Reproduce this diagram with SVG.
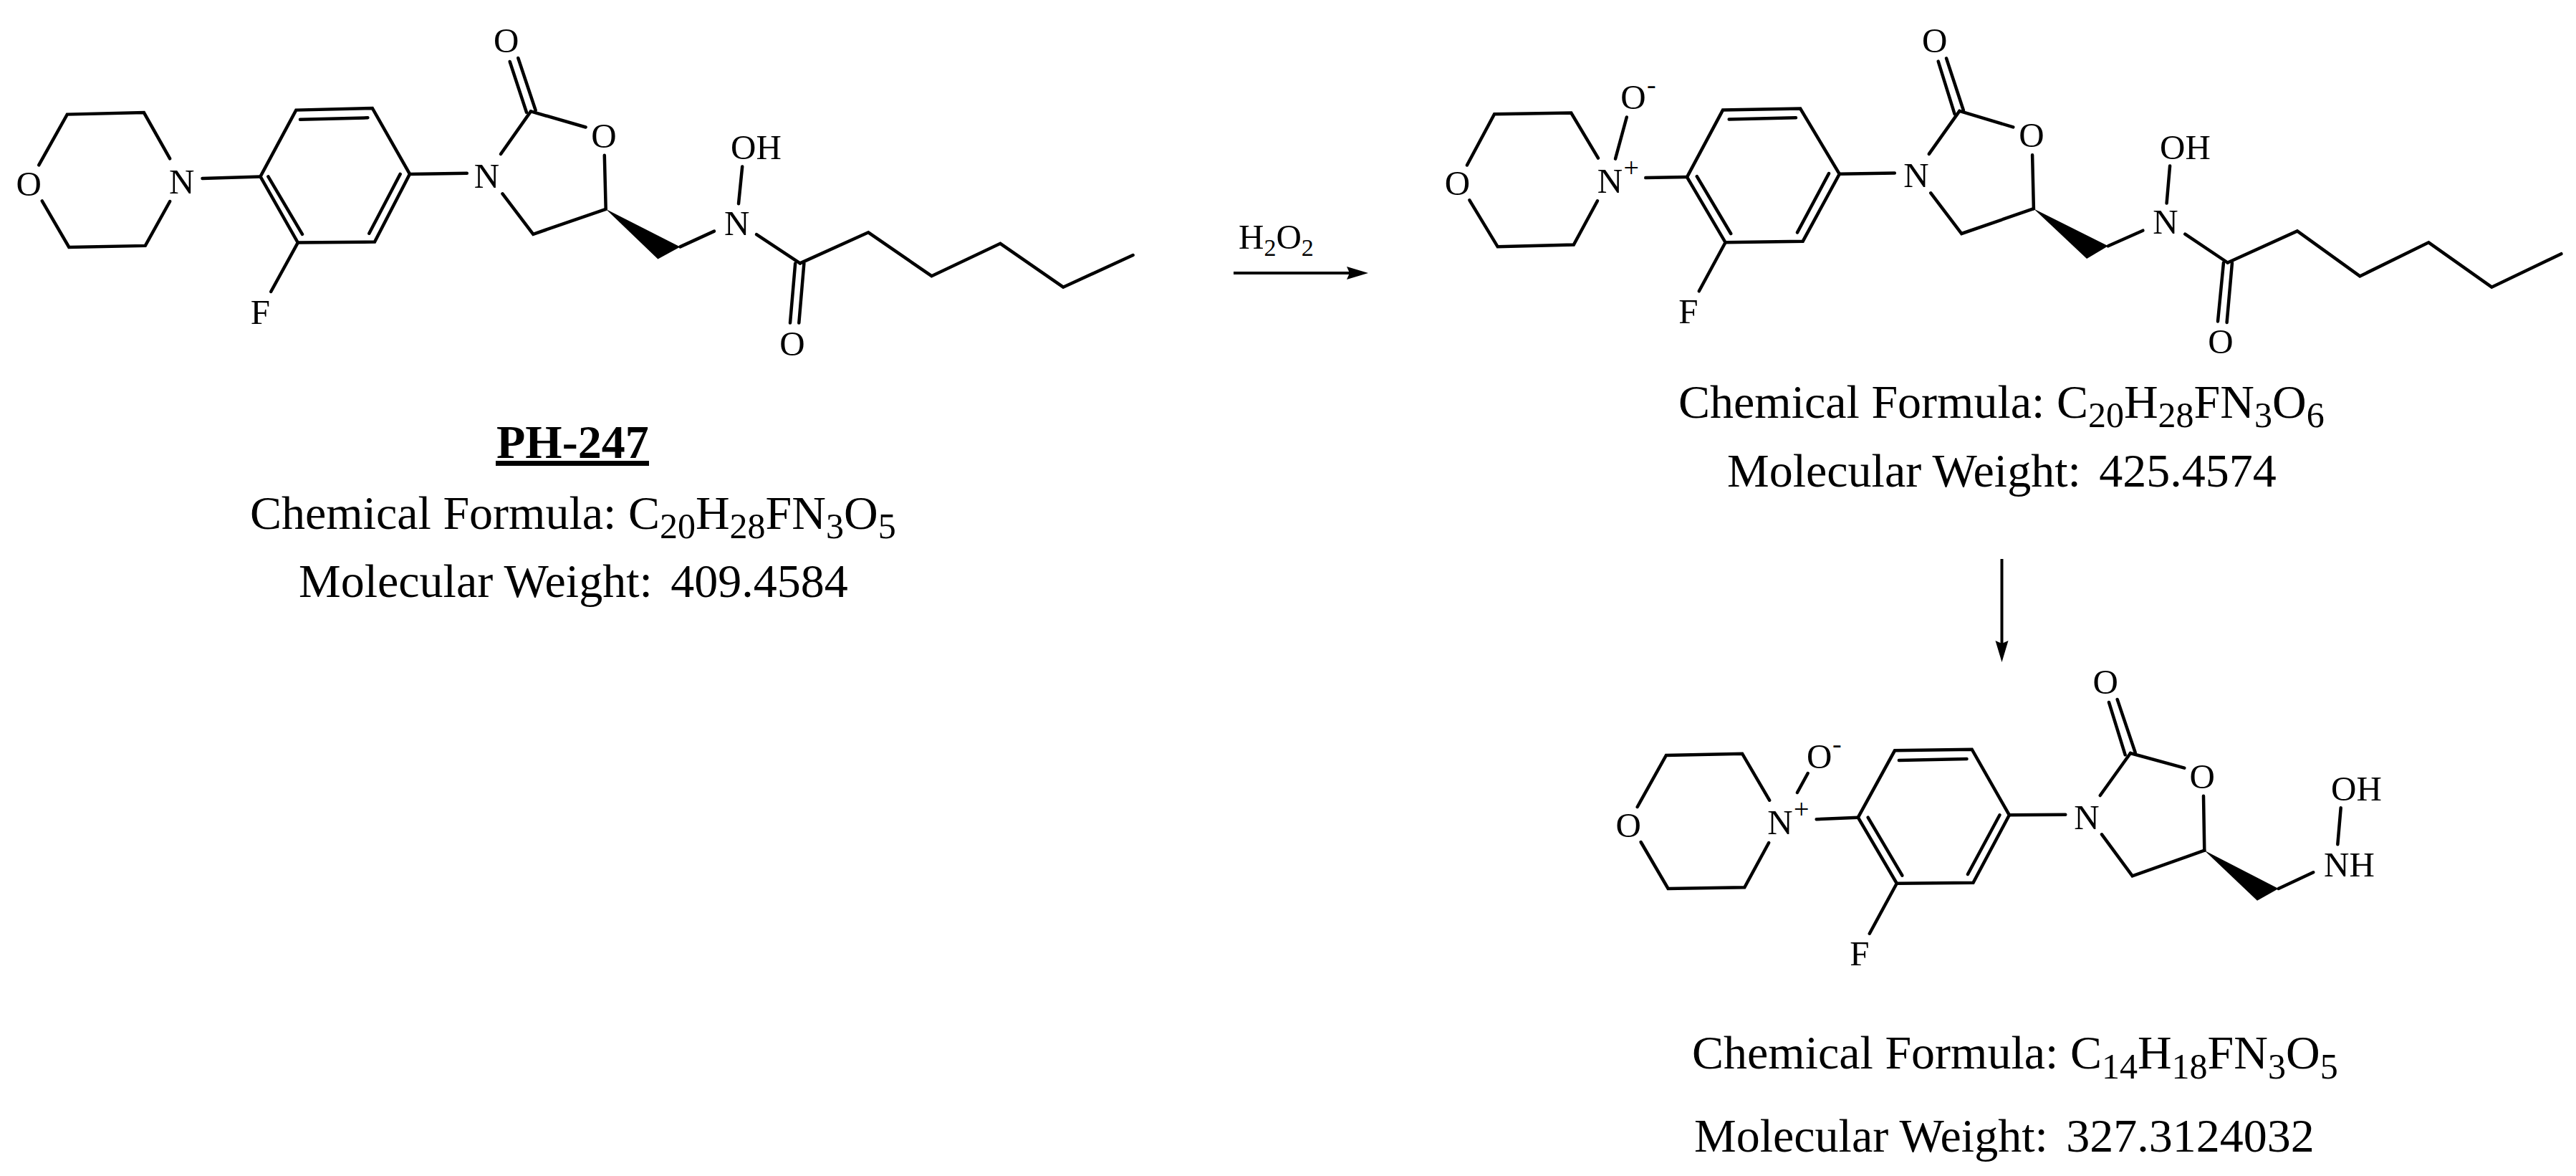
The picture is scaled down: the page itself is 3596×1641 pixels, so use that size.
<svg xmlns="http://www.w3.org/2000/svg" width="3596" height="1641" viewBox="0 0 3596 1641">
<style>
text{font-family:"Liberation Serif","Times New Roman",serif;fill:#000}
.a{font-size:49px;text-anchor:middle}
.l{font-size:49px}
.c{font-size:38px}
.f{font-size:66px}
.w{font-size:66px}
.s{font-size:50px}
.t{font-size:66px;font-weight:bold}
.b{fill:none;stroke:#000;stroke-width:4.5;stroke-linejoin:miter;stroke-linecap:round}
.k{fill:#000}
.r{fill:none;stroke:#000;stroke-width:4}
</style>
<defs>
<marker id="ah" markerUnits="userSpaceOnUse" markerWidth="32" markerHeight="22" refX="18" refY="11" orient="auto"><path d="M0,2 L30,11 L0,20 L4,11 Z" fill="#000"/></marker>
</defs>
<rect width="3596" height="1641" fill="#fff"/>
<g id="connectors">
<line class="r" x1="1722" y1="381" x2="1898" y2="381" marker-end="url(#ah)"/>
<line class="r" x1="2794.5" y1="780" x2="2794.5" y2="912" marker-end="url(#ah)"/>
</g>
<g id="reagent"><text class="l" x="1729" y="347">H<tspan font-size="34" dy="10">2</tspan><tspan dy="-10">O</tspan><tspan font-size="34" dy="10">2</tspan></text></g>
<g id="ph247">
<polyline class="b" points="237.2,221.4 200.9,157.1 93.8,159.6 54.2,230.4"/>
<polyline class="b" points="237.2,281 202.8,342.9 96.3,345 58.7,280.4"/>
<line class="b" x1="282.5" y1="249" x2="363.5" y2="246.4"/>
<polygon class="b" points="363.5,246.4 413.3,153.6 519.8,151 572,242.9 523,337.5 415.8,338.6"/>
<line class="b" x1="419" y1="166.8" x2="513.4" y2="164.3"/>
<line class="b" x1="374.4" y1="246.4" x2="422" y2="326.8"/>
<line class="b" x1="558.7" y1="242.9" x2="515.3" y2="325.7"/>
<line class="b" x1="415.8" y1="338.6" x2="378.2" y2="407"/>
<line class="b" x1="572" y1="242.9" x2="651.8" y2="241.8"/>
<line class="b" x1="699" y1="215" x2="741" y2="155.4"/>
<line class="b" x1="711.7" y1="86" x2="735" y2="156.7"/>
<line class="b" x1="723.3" y1="81" x2="747.7" y2="154"/>
<line class="b" x1="741" y1="155.4" x2="817.6" y2="177.5"/>
<line class="b" x1="843.8" y1="216.8" x2="845.7" y2="291.8"/>
<polyline class="b" points="845.7,291.8 744.3,326.8 701.5,270.4"/>
<polygon class="k" points="845.7,291.8 918.4,361.6 949.5,344.4"/>
<line class="b" x1="949.5" y1="344.4" x2="997" y2="322.6"/>
<line class="b" x1="1036.2" y1="232.5" x2="1031" y2="284.2"/>
<line class="b" x1="1056" y1="327.2" x2="1116.8" y2="367.4"/>
<line class="b" x1="1110.2" y1="367.4" x2="1103" y2="450.6"/>
<line class="b" x1="1122.4" y1="367.4" x2="1115.3" y2="450.6"/>
<polyline class="b" points="1116.8,367.4 1212.2,324.3 1300.5,385.2 1396.4,339.8 1484.2,400.7 1581.6,356"/>
<text class="a" x="40.2" y="273">O</text>
<text class="a" x="253.8" y="269.6">N</text>
<text class="a" x="363.5" y="451.8">F</text>
<text class="a" x="679.5" y="261.7">N</text>
<text class="a" x="706.6" y="73">O</text>
<text class="a" x="843" y="206">O</text>
<text class="a" x="1028.6" y="328.4">N</text>
<text class="l" x="1020" y="222">OH</text>
<text class="a" x="1106" y="496">O</text>
<text class="t" x="693" y="639">PH-247</text>
<rect x="692" y="643" width="214" height="7" fill="#000"/>
<text class="f" x="349" y="738">Chemical Formula: C<tspan class="s" dy="13">20</tspan><tspan dy="-13">H</tspan><tspan class="s" dy="13">28</tspan><tspan dy="-13">FN</tspan><tspan class="s" dy="13">3</tspan><tspan dy="-13">O</tspan><tspan class="s" dy="13">5</tspan></text>
<text class="w" x="417" y="833">Molecular Weight: <tspan dx="9">409.4584</tspan></text>
</g>
<g id="n-oxide">
<polyline class="b" points="2231,220.6 2193.3,157.5 2086.1,159.2 2047.9,230.5"/>
<polyline class="b" points="2230,280.3 2196.8,341.6 2090.7,344.3 2051.4,279.3"/>
<line class="b" x1="2255" y1="221.6" x2="2270.8" y2="163.5"/>
<line class="b" x1="2297.3" y1="248.1" x2="2355" y2="247.1"/>
<polygon class="b" points="2355,247.1 2405,153.6 2513.2,151.6 2567.8,242.8 2516.7,336.7 2408.6,338.3"/>
<line class="b" x1="2413.7" y1="166.5" x2="2507" y2="164.2"/>
<line class="b" x1="2368.8" y1="246.1" x2="2416.2" y2="326"/>
<line class="b" x1="2553" y1="242.1" x2="2509" y2="324.4"/>
<line class="b" x1="2408.6" y1="338.3" x2="2371.8" y2="406.3"/>
<line class="b" x1="2567.8" y1="242.8" x2="2644.8" y2="241.5"/>
<line class="b" x1="2692.8" y1="214.9" x2="2735.4" y2="154.9"/>
<line class="b" x1="2705.7" y1="85.6" x2="2728.6" y2="159.2"/>
<line class="b" x1="2717" y1="81.3" x2="2741" y2="154.2"/>
<line class="b" x1="2735.4" y1="154.9" x2="2810.3" y2="177.4"/>
<line class="b" x1="2837.1" y1="216.3" x2="2838.9" y2="291.2"/>
<polyline class="b" points="2838.9,291.2 2738.3,326 2695.3,269.3"/>
<polygon class="k" points="2838.9,291.2 2913.1,360.9 2942.9,343.3"/>
<line class="b" x1="2942.9" y1="343.3" x2="2991.4" y2="321.7"/>
<line class="b" x1="3029.1" y1="231.5" x2="3024.6" y2="283.6"/>
<line class="b" x1="3050.3" y1="326.7" x2="3109.7" y2="366.5"/>
<line class="b" x1="3104" y1="366.5" x2="3096" y2="448.4"/>
<line class="b" x1="3116" y1="366.5" x2="3108.6" y2="450"/>
<polyline class="b" points="3109.7,366.5 3206.9,322.4 3294.3,385.4 3390.3,338.3 3478.3,400.7 3575.4,354.2"/>
<text class="a" x="2034.4" y="272">O</text>
<text class="a" x="2247.5" y="269">N</text>
<text class="c" x="2266.5" y="247">+</text>
<text class="a" x="2280" y="152">O</text>
<text class="c" x="2299" y="131">-</text>
<text class="a" x="2357" y="451">F</text>
<text class="a" x="2675" y="261">N</text>
<text class="a" x="2700.7" y="73">O</text>
<text class="a" x="2836" y="205">O</text>
<text class="a" x="3023" y="325.7">N</text>
<text class="l" x="3015" y="221.6">OH</text>
<text class="a" x="3100" y="493">O</text>
<text class="f" x="2343" y="583">Chemical Formula: C<tspan class="s" dy="13">20</tspan><tspan dy="-13">H</tspan><tspan class="s" dy="13">28</tspan><tspan dy="-13">FN</tspan><tspan class="s" dy="13">3</tspan><tspan dy="-13">O</tspan><tspan class="s" dy="13">6</tspan></text>
<text class="w" x="2411" y="679">Molecular Weight: <tspan dx="9">425.4574</tspan></text>
</g>
<g id="degradant">
<polyline class="b" points="2470.1,1116.7 2432.1,1051.7 2325.9,1054 2285.7,1126"/>
<polyline class="b" points="2469.2,1176 2435.3,1238.3 2328.6,1240 2290.6,1175"/>
<line class="b" x1="2508.9" y1="1106" x2="2523.7" y2="1079"/>
<line class="b" x1="2535.7" y1="1143.3" x2="2593.8" y2="1140.7"/>
<polygon class="b" points="2593.8,1140.7 2645,1047.3 2752.7,1045.7 2804.9,1137.3 2754.5,1231.7 2647.8,1232.7"/>
<line class="b" x1="2650.9" y1="1061" x2="2745.5" y2="1059"/>
<line class="b" x1="2607.6" y1="1140.7" x2="2655.4" y2="1221.7"/>
<line class="b" x1="2791.5" y1="1137.3" x2="2746.9" y2="1220"/>
<line class="b" x1="2647.8" y1="1232.7" x2="2609.8" y2="1302.7"/>
<line class="b" x1="2804.9" y1="1137.3" x2="2883.3" y2="1136.7"/>
<line class="b" x1="2931.7" y1="1110" x2="2974" y2="1051"/>
<line class="b" x1="2944" y1="980" x2="2966.7" y2="1053.3"/>
<line class="b" x1="2955.7" y1="976" x2="2980.7" y2="1050"/>
<line class="b" x1="2974" y1="1051" x2="3049.3" y2="1071.7"/>
<line class="b" x1="3076" y1="1110.7" x2="3077.3" y2="1186.7"/>
<polyline class="b" points="3077.3,1186.7 2976.7,1222.3 2934,1164.3"/>
<polygon class="k" points="3077.3,1186.7 3151,1256.7 3180.7,1240"/>
<line class="b" x1="3180.7" y1="1240" x2="3229.3" y2="1217.3"/>
<line class="b" x1="3267.7" y1="1127.3" x2="3263.3" y2="1178.3"/>
<text class="a" x="2273.2" y="1167.5">O</text>
<text class="a" x="2485" y="1164.3">N</text>
<text class="c" x="2504" y="1142">+</text>
<text class="a" x="2539.7" y="1071.5">O</text>
<text class="c" x="2558" y="1051">-</text>
<text class="a" x="2596" y="1346.7">F</text>
<text class="a" x="2913" y="1156.7">N</text>
<text class="a" x="2939.3" y="967.5">O</text>
<text class="a" x="3074.3" y="1099.5">O</text>
<text class="l" x="3244" y="1222.7">NH</text>
<text class="l" x="3254" y="1116.7">OH</text>
<text class="f" x="2362" y="1490.7">Chemical Formula: C<tspan class="s" dy="14">14</tspan><tspan dy="-14">H</tspan><tspan class="s" dy="14">18</tspan><tspan dy="-14">FN</tspan><tspan class="s" dy="14">3</tspan><tspan dy="-14">O</tspan><tspan class="s" dy="14">5</tspan></text>
<text class="w" x="2365" y="1607.3">Molecular Weight: <tspan dx="9">327.3124032</tspan></text>
</g>
</svg>
